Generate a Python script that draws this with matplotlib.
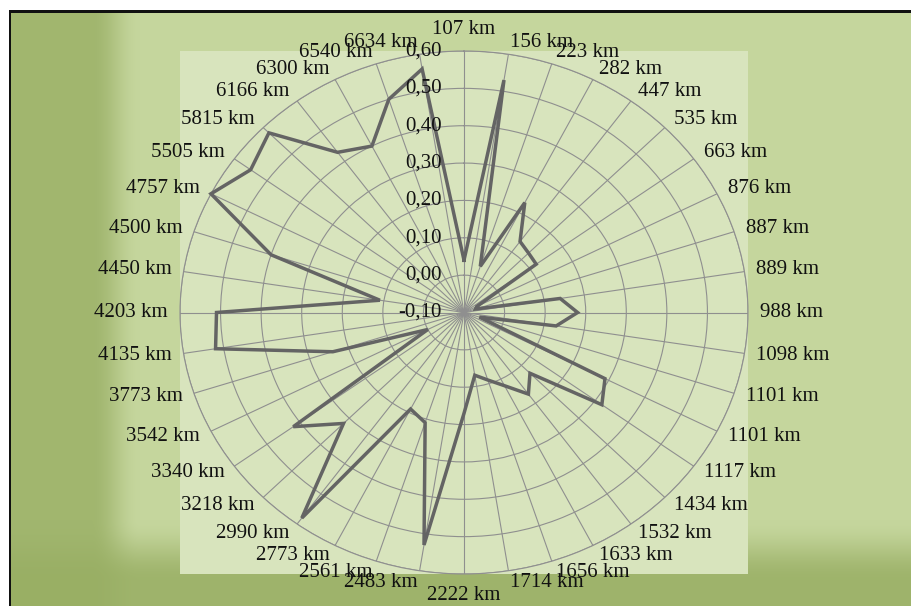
import numpy as np
import matplotlib
matplotlib.use("Agg")
import matplotlib.pyplot as plt
from matplotlib.patches import Rectangle

# ---------------- data ----------------
categories = ["107 km", "156 km", "223 km", "282 km", "447 km", "535 km", "663 km",
              "876 km", "887 km", "889 km", "988 km", "1098 km", "1101 km", "1101 km",
              "1117 km", "1434 km", "1532 km", "1633 km", "1656 km", "1714 km",
              "2222 km", "2483 km", "2561 km", "2773 km", "2990 km", "3218 km",
              "3340 km", "3542 km", "3773 km", "4135 km", "4203 km", "4450 km",
              "4500 km", "4757 km", "5505 km", "5815 km", "6166 km", "6300 km",
              "6540 km", "6634 km"]
values = [0.04, 0.53, 0.03, 0.23, 0.135, 0.125, 0.12, -0.065, -0.07, 0.14,
          0.18, 0.13, -0.06, 0.29, 0.32, 0.13, 0.17, 0.12, 0.09, 0.07,
          0.17, 0.53, 0.21, 0.19, 0.58, 0.32, 0.42, 0.00, 0.24, 0.52,
          0.51, 0.11, 0.40, 0.60, 0.55, 0.58, 0.43, 0.40, 0.50, 0.56]
r_ticks = [-0.10, 0.00, 0.10, 0.20, 0.30, 0.40, 0.50, 0.60]
r_tick_labels = ["-0,10", "0,00", "0,10", "0,20", "0,30", "0,40", "0,50", "0,60"]

# ---------------- figure ----------------
W, H = 911, 606
fig = plt.figure(figsize=(W / 100, H / 100), dpi=100)
fig.patch.set_facecolor("white")

FONT = ["Liberation Serif", "DejaVu Serif"]
FS = 15
TXT = "#111111"
GRID = "#8f8f8f"

# background axes (pixel coordinates)
bg = fig.add_axes([0, 0, 1, 1], zorder=0)
bg.set_xlim(0, W)
bg.set_ylim(H, 0)
bg.axis("off")

yy, xx = np.mgrid[0:H, 0:W] + 0.5


def smooth(t):
    t = np.clip(t, 0, 1)
    return t * t * (3 - 2 * t)


light = np.array([197, 214, 157]) / 255.0
dark = np.array([152, 174, 99]) / 255.0
L = 1 - smooth((xx - 92) / 48)
B = smooth((yy - 520) / 60)
w = 1 - (1 - 0.8 * L) * (1 - 0.85 * B)
img = light[None, None, :] * (1 - w[..., None]) + dark[None, None, :] * w[..., None]
white = (xx < 9) | (yy < 10)
img[white] = 1.0
bg.imshow(img, extent=[0, W, H, 0], aspect="auto", interpolation="bilinear", zorder=0)
# frame lines (top and left)
bg.add_patch(Rectangle((9, 10), W, 2.5, color="#111111", zorder=1, lw=0))
bg.add_patch(Rectangle((9, 10), 2.2, H, color="#111111", zorder=1, lw=0))
# plot area
bg.add_patch(Rectangle((180, 51), 568, 523, color="#d8e4bd", zorder=1, lw=0))

# ---------------- radar ----------------
cx0, cy0, rx, ry = 180, 51, 568, 523
ax = fig.add_axes([cx0 / W, 1 - (cy0 + ry) / H, rx / W, ry / H],
                  projection="polar", zorder=2)
ax.set_aspect("auto")
ax.patch.set_alpha(0)
ax.set_theta_zero_location("N")
ax.set_theta_direction(-1)
n = len(categories)
angles = np.arange(n) * 2 * np.pi / n
ax.set_xticks(angles)
ax.set_xticklabels([])
ax.set_ylim(r_ticks[0], r_ticks[-1])
ax.set_yticks(r_ticks[1:])
ax.set_yticklabels([])
ax.grid(True, color=GRID, lw=0.8)
ax.spines["polar"].set_color(GRID)
ax.spines["polar"].set_linewidth(0.8)
ax.tick_params(length=0)

ax.plot(np.append(angles, angles[0]), np.append(values, values[0]),
        color="#646464", lw=2.5, solid_joinstyle="miter", zorder=5, clip_on=False)

# radial value labels
for v, lbl in zip(r_ticks, r_tick_labels):
    ax.annotate(lbl, xy=(0, v), xytext=(-22, 0), textcoords="offset pixels",
                ha="right", va="center", fontsize=FS, family=FONT, color=TXT,
                annotation_clip=False, zorder=6)

# category labels
ex, ey = rx / 2.0, ry / 2.0
for i, (th, lbl) in enumerate(zip(angles, categories)):
    s, c = np.sin(th), np.cos(th)
    d = np.array([ex * s, ey * c])
    d = d / np.hypot(*d) * 12
    if abs(s) < 1e-6:
        ha = "center"
        va = "bottom" if c > 0 else "top"
    else:
        ha = "left" if s > 0 else "right"
        va = "center"
    ax.annotate(lbl, xy=(th, r_ticks[-1]), xytext=(d[0], d[1]),
                textcoords="offset pixels", ha=ha, va=va, fontsize=FS,
                family=FONT, color=TXT, annotation_clip=False, zorder=6)

fig.savefig("out.png", dpi=100, facecolor=fig.get_facecolor())
